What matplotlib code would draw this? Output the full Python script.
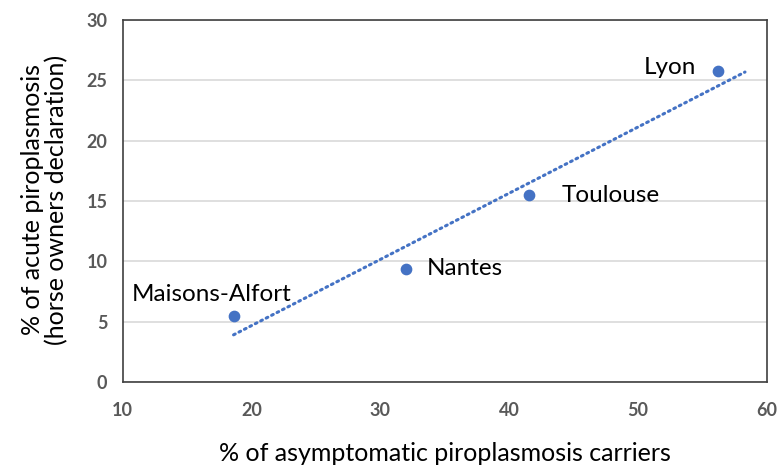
import numpy as np
import matplotlib
matplotlib.use("Agg")
import matplotlib.pyplot as plt

plt.rcParams['font.family'] = ['Lato', 'DejaVu Sans']

# data
sites = ["Maisons-Alfort", "Nantes", "Toulouse", "Lyon"]
carriers = [18.6, 32.0, 41.5, 56.2]     # % asymptomatic carriers
acute = [5.5, 9.4, 15.5, 25.8]          # % acute piroplasmosis
trend_end = 58.3                         # trendline forecast end

blue = "#4472C4"

fig = plt.figure(figsize=(7.77, 4.66), dpi=100)
ax = fig.add_axes([0.158, 0.180, 0.829, 0.777])

ax.scatter(carriers, acute, s=55, color=blue, zorder=3)

# linear trendline
slope, intercept = np.polyfit(carriers, acute, 1)
tx = np.array([min(carriers), trend_end])
ax.plot(tx, slope * tx + intercept, color=blue, lw=2.2,
        linestyle=(0, (0.6, 1.4)), dash_capstyle='round', zorder=2)

# point labels
offsets = {
    "Maisons-Alfort": (-16, 15, 'center', 'center'),
    "Nantes": (15, 0, 'left', 'center'),
    "Toulouse": (24, 0, 'left', 'center'),
    "Lyon": (-16, 2, 'right', 'center'),
}
for name, x, y in zip(sites, carriers, acute):
    dx, dy, ha, va = offsets[name]
    ax.annotate(name, (x, y), xytext=(dx, dy), textcoords='offset points',
                ha=ha, va=va, fontsize=17.5, color='black')

ax.set_xlim(10, 60)
ax.set_ylim(0, 30)
ax.set_xticks(range(10, 61, 10))
ax.set_yticks(range(0, 31, 5))
ax.yaxis.grid(True, color='#D9D9D9', lw=1.2)
ax.set_axisbelow(True)
ax.tick_params(length=0, labelsize=13, labelcolor='#595959')
ax.tick_params(axis='y', pad=11)
ax.tick_params(axis='x', pad=14)
for lbl in ax.get_xticklabels() + ax.get_yticklabels():
    lbl.set_fontweight('bold')
for sp in ax.spines.values():
    sp.set_color('#404040')
    sp.set_linewidth(1.2)

ax.set_xlabel("% of asymptomatic piroplasmosis carriers", fontsize=18, va='center')
ax.xaxis.set_label_coords(0.5, -0.196)
ax.set_ylabel("% of acute piroplasmosis\n(horse owners declaration)", fontsize=18,
              linespacing=1.05, va='center')
ax.yaxis.set_label_coords(-0.121, 0.503)

fig.savefig("out.png", dpi=100)
